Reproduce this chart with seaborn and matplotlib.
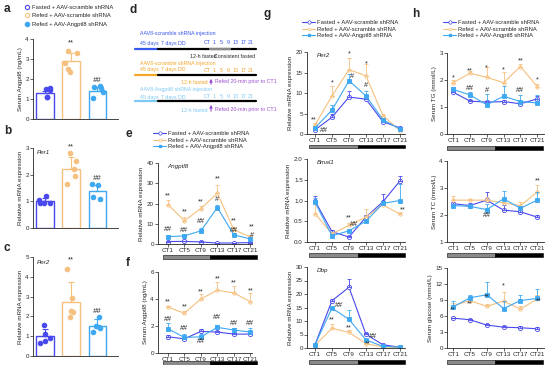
import numpy as np
import matplotlib
matplotlib.use("Agg")
import matplotlib.pyplot as plt
from matplotlib.lines import Line2D
from matplotlib.patches import Rectangle, FancyArrowPatch
import seaborn as sns

W, H = 550, 365

fasted_color = "#4848ee"
scramble_color = "#f6c07e"
angptl8_color = "#3ea8f2"
colors = [fasted_color, scramble_color, angptl8_color]

groups = ["Fasted", "Refed scramble", "Refed Angptl8"]
legend_labels = ["Fasted + AAV-scramble shRNA", "Refed + AAV-scramble shRNA", "Refed + AAV-Angptl8 shRNA"]
ct_labels = ["CT1", "CT5", "CT9", "CT13", "CT17", "CT21"]

# a-c: bar panels
serum_angptl8_means = [1.3, 2.88, 1.4]
serum_angptl8_errs = [0.12, 0.4, 0.2]
serum_angptl8_points = [[1.55, 1.5, 1.45, 1.1, 1.1], [3.4, 3.3, 2.8, 2.5, 2.35], [1.65, 1.6, 1.55, 1.35, 1.05]]

per1_means = [1.0, 2.2, 1.37]
per1_errs = [0.13, 0.45, 0.25]
per1_points = [[1.2, 1.05, 0.95, 0.95, 0.95], [2.8, 2.5, 2.2, 1.95, 1.65], [1.65, 1.6, 1.15, 1.1]]

per2_means = [1.0, 2.75, 1.53]
per2_errs = [0.35, 1.0, 0.35]
per2_points = [[1.55, 1.1, 0.9, 0.75, 0.65], [4.4, 2.95, 2.25, 2.2, 1.95], [1.95, 1.5, 1.45, 1.4, 1.2]]

# e: liver Angptl8 mRNA
e_fasted = [1.2, 1.3, 1.0, 0.5, 0.5, 0.7]
e_fasted_err = [0.3, 0.3, 0.3, 0.2, 0.2, 0.3]
e_scramble = [19.5, 11.5, 17.5, 25.0, 7.0, 3.5]
e_scramble_err = [2.0, 2.0, 1.5, 4.0, 1.5, 1.0]
e_angptl8 = [3.6, 4.0, 6.5, 18.0, 4.5, 2.5]
e_angptl8_err = [1.0, 1.0, 1.5, 1.5, 1.0, 0.8]

# f: serum Angptl8
f_fasted = [1.2, 1.05, 1.6, 1.55, 1.4, 1.4]
f_fasted_err = [0.15, 0.1, 0.15, 0.1, 0.1, 0.1]
f_scramble = [3.4, 2.95, 4.0, 4.65, 4.45, 3.8]
f_scramble_err = [0.1, 0.15, 0.35, 0.6, 0.55, 0.65]
f_angptl8 = [1.8, 1.15, 1.2, 1.9, 1.7, 1.55]
f_angptl8_err = [0.45, 0.25, 0.2, 0.15, 0.15, 0.3]

# g: clock genes
per2_fasted = [1.0, 4.1, 9.0, 8.5, 3.0, 1.5]
per2_fasted_err = [0.3, 0.9, 1.5, 1.0, 0.5, 0.3]
per2_scramble = [2.2, 9.3, 15.7, 14.2, 4.5, 0.8]
per2_scramble_err = [0.5, 2.4, 2.8, 2.8, 0.5, 0.3]
per2_angptl8 = [1.5, 5.8, 13.0, 9.3, 3.5, 1.2]
per2_angptl8_err = [0.3, 1.2, 1.7, 1.2, 0.5, 0.3]

bmal1_fasted = [0.99, 0.25, 0.12, 0.6, 0.97, 1.47]
bmal1_fasted_err = [0.12, 0.03, 0.02, 0.05, 0.18, 0.13]
bmal1_scramble = [0.68, 0.2, 0.4, 0.6, 0.9, 0.67]
bmal1_scramble_err = [0.25, 0.05, 0.05, 0.2, 0.05, 0.05]
bmal1_angptl8 = [0.96, 0.15, 0.27, 0.5, 0.93, 1.0]
bmal1_angptl8_err = [0.1, 0.03, 0.05, 0.05, 0.05, 0.4]

dbp_fasted = [1.2, 17.5, 22.5, 5.1, 1.2, 0.3]
dbp_fasted_err = [0.3, 0.5, 3.0, 0.5, 0.2, 0.1]
dbp_scramble = [1.0, 7.3, 5.8, 1.6, 0.4, 0.2]
dbp_scramble_err = [0.2, 1.7, 0.7, 0.3, 0.1, 0.1]
dbp_angptl8 = [1.2, 14.8, 10.6, 3.0, 0.6, 0.3]
dbp_angptl8_err = [0.3, 0.5, 3.4, 0.4, 0.2, 0.1]

# h: serum lipids and glucose
tg_fasted = [1.55, 1.22, 1.18, 1.2, 1.12, 1.3]
tg_fasted_err = [0.05, 0.05, 0.05, 0.05, 0.05, 0.1]
tg_scramble = [1.9, 2.25, 2.1, 1.9, 2.5, 1.75]
tg_scramble_err = [0.1, 0.08, 0.4, 0.4, 0.08, 0.1]
tg_angptl8 = [1.65, 1.45, 1.08, 1.4, 1.2, 1.15]
tg_angptl8_err = [0.1, 0.1, 0.4, 0.38, 0.25, 0.3]

tc_fasted = [2.42, 2.35, 2.55, 2.18, 2.12, 1.92]
tc_fasted_err = [0.05, 0.08, 0.3, 0.2, 0.05, 0.08]
tc_scramble = [2.55, 2.55, 2.55, 2.45, 2.35, 2.85]
tc_scramble_err = [0.15, 0.05, 0.1, 0.1, 0.15, 0.25]
tc_angptl8 = [2.35, 2.32, 2.2, 2.6, 2.25, 2.55]
tc_angptl8_err = [0.05, 0.05, 0.2, 0.3, 0.05, 0.3]

glu_fasted = [5.6, 5.3, 4.3, 3.9, 3.8, 3.6]
glu_fasted_err = [0.1, 0.2, 0.2, 0.2, 0.4, 0.3]
glu_scramble = [7.9, 8.9, 7.8, 8.8, 7.3, 9.2]
glu_scramble_err = [0.5, 0.7, 0.4, 1.7, 0.5, 0.8]
glu_angptl8 = [7.7, 9.4, 10.0, 7.4, 8.9, 9.3]
glu_angptl8_err = [1.1, 0.6, 2.3, 1.5, 1.1, 1.7]

# significance marks: (CT index, y, text, x shift)
e_marks = [(0, 24, "**", 0), (1, 16, "**", 0), (2, 21, "**", 0), (3, 32, "**", 0), (4, 11.2, "**", 0), (5, 8.5, "**", 0.1),
           (0, 7, "##", 0), (1, 6.5, "##", 0), (2, 11, "##", 0), (3, 22, "#", 0), (4, 6.6, "##", 0), (5, 4.0, "#", 0.1)]
f_marks = [(0, 3.8, "**", 0), (1, 3.4, "**", 0), (2, 4.5, "**", 0), (3, 5.5, "**", 0), (4, 5.2, "**", 0), (5, 4.6, "**", 0),
           (0, 2.45, "##", 0), (1, 1.8, "##", 0), (2, 0.85, "##", 0), (3, 2.6, "##", 0), (4, 2.2, "##", 0), (5, 2.15, "##", 0)]
per2_marks = [(0, 3.5, "**", -0.1), (0, 0.75, "##", 0.5), (1, 12.5, "*", 0), (2, 19.5, "*", 0), (2, 14.1, "#", 0.15),
              (3, 17, "*", 0), (3, 11.8, "#", 0)]
bmal1_marks = [(2, 0.58, "**", 0), (2, 0.41, "##", 0.3), (5, 0.77, "**", 0.15)]
dbp_marks = [(1, 15.7, "##", 0.4), (1, 10.4, "**", 0), (2, 7.4, "**", 0), (3, 4.2, "##", 0.4), (3, 1.5, "**", 0.1)]
tg_marks = [(0, 2.07, "*", 0), (1, 2.33, "**", 0), (2, 2.46, "*", 0), (3, 2.36, "*", 0), (4, 2.7, "**", 0), (5, 1.99, "*", 0),
            (1, 1.68, "##", 0), (2, 1.62, "#", 0), (4, 1.62, "##", 0)]
tc_marks = [(2, 1.99, "##", 0), (5, 3.25, "**", 0)]
glu_marks = [(0, 7.1, "**", 0), (1, 8.25, "**", 0), (2, 9.6, "**", 0), (3, 11.6, "*", 0), (5, 8.75, "**", 0.1)]


def px(x, y):
    return x / W, 1 - y / H


def add_axes_px(fig, left, top, right, bottom):
    return fig.add_axes([left / W, 1 - bottom / H, (right - left) / W, (bottom - top) / H])


def style_axes(ax):
    sns.despine(ax=ax)
    for s in ["left", "bottom"]:
        ax.spines[s].set_linewidth(0.6)
    ax.tick_params(labelsize=4.5, length=2, width=0.5, pad=1)


def light_dark_bar(fig, left, split, right, y, h=3.5):
    fig.add_artist(Rectangle(px(left, y + h), (split - left) / W, h / H, facecolor="#8a8a8a",
                             edgecolor="black", lw=0.4, transform=fig.transFigure))
    fig.add_artist(Rectangle(px(split, y + h), (right - split) / W, h / H, facecolor="black",
                             edgecolor="black", lw=0.4, transform=fig.transFigure))


def bar_panel(fig, box, means, errs, points, ylim, yticks, ylabel, gene=None, star_y=None, hash_y=None):
    ax = add_axes_px(fig, *box)
    sns.barplot(x=groups, y=means, hue=groups, palette=colors, fill=False, width=0.66,
                errorbar=None, legend=False, linewidth=1.0, ax=ax)
    for i in range(3):
        ax.errorbar([i], [means[i]], yerr=[[0], [errs[i]]], fmt="none", ecolor=colors[i],
                    elinewidth=0.8, capsize=2, capthick=0.8)
        sns.stripplot(x=[groups[i]] * len(points[i]), y=points[i], order=groups, color=colors[i],
                      edgecolor=colors[i], linewidth=0.8, size=3.2, jitter=0.22, ax=ax)
        if i < 2:
            ax.collections[-1].set_facecolor("white")
    ax.set_xlim(-0.46, 2.8)
    ax.set_ylim(*ylim)
    ax.set_yticks(yticks)
    ax.set_xticks([])
    ax.set_xlabel("")
    ax.set_ylabel(ylabel, fontsize=4.5, labelpad=2)
    style_axes(ax)
    if gene:
        ax.text(0.05, 0.97, gene, transform=ax.transAxes, fontsize=4.5, style="italic", va="top")
    ax.text(1, star_y, "**", ha="center", va="center", fontsize=5.5)
    ax.text(2, hash_y, "##", ha="center", va="center", fontsize=5.5, style="italic")
    return ax


def line_panel(fig, box, xlim, series, ylim, yticks, ylabel, marks, gene=None, yfmt=None):
    ax = add_axes_px(fig, *box)
    x = np.arange(len(ct_labels))
    styles = [("o", "white", 3.0), ("o", "white", 2.4), ("s", angptl8_color, 2.2)]
    for (vals, errs), c, (m, mfc, ms) in zip(series, colors, styles):
        sns.lineplot(x=x, y=vals, color=c, marker=m, markersize=ms, markerfacecolor=mfc,
                     markeredgecolor=c, markeredgewidth=0.6, linewidth=0.8, ax=ax, legend=False)
        ax.errorbar(x, vals, yerr=[np.zeros(len(errs)), errs], fmt="none", ecolor=c,
                    elinewidth=0.6, capsize=1.5, capthick=0.6)
    for i, y, t, dx in marks:
        ax.text(i + dx, y, t, ha="center", va="center", fontsize=5.2)
    ax.set_xlim(*xlim)
    ax.set_ylim(*ylim)
    ax.set_yticks(yticks)
    if yfmt:
        ax.set_yticklabels([yfmt.format(v) for v in yticks])
    ax.set_xticks(x)
    ax.set_xticklabels(ct_labels)
    ax.set_ylabel(ylabel, fontsize=4.5, labelpad=2)
    style_axes(ax)
    if gene:
        ax.text(0.1, 0.99, gene, transform=ax.transAxes, fontsize=4.5, style="italic", va="top")
    return ax


def line_legend(fig, x, y):
    handles = [
        Line2D([], [], color=fasted_color, lw=0.8, marker="o", ms=2.4, mfc="white", mec=fasted_color, mew=0.5),
        Line2D([], [], color=scramble_color, lw=0.8, marker="o", ms=2.0, mfc="white", mec=scramble_color, mew=0.5),
        Line2D([], [], color=angptl8_color, lw=0.8, marker="s", ms=1.8, mfc=angptl8_color, mec=angptl8_color),
    ]
    fig.legend(handles, legend_labels, loc="upper left", bbox_to_anchor=px(x, y), frameon=False,
               fontsize=4.2, handlelength=2.3, handletextpad=0.25, labelspacing=0.25,
               borderpad=0, borderaxespad=0)


def draw_schematic(fig):
    fig.text(*px(130, 13), "d", fontsize=8.5, fontweight="bold")
    rows = [("#3656ec", 34, 43, 49), ("#f4a62a", 63, 70, 75), ("#7ec8f4", 90, 97, 101)]
    titles = ["AAV8-scramble shRNA injection", "AAV8-scramble shRNA injection", "AAV8-Angptl8 shRNA injection"]
    for (c, yt, yd, yl), title in zip(rows, titles):
        fig.text(*px(140, yt), title, color=c, fontsize=3.8, va="center")
        fig.text(*px(140, yd), "45 days", color=c, fontsize=3.8, va="center")
        fig.text(*px(161, yd), "7 days DD", color=c, fontsize=3.8, va="center")
        fig.text(*px(204, yd), "CT", color=c, fontsize=3.8, va="center")
        for xx, t in zip([214, 221, 228, 236, 243, 251], ["1", "5", "9", "13", "17", "21"]):
            fig.text(*px(xx, yd), t, color=c, fontsize=3.8, va="center", ha="center")
        fig.add_artist(Line2D([135 / W, 158 / W], [1 - yl / H] * 2, color=c, lw=1.6, transform=fig.transFigure))
        fig.add_artist(Line2D([158 / W, 256 / W], [1 - yl / H] * 2, color="black", lw=1.6, transform=fig.transFigure))
    fig.add_artist(Line2D([210 / W, 230 / W], [1 - 49 / H] * 2, color="#8a8a8a", lw=1.6, transform=fig.transFigure))
    fig.text(*px(190, 57), "12-h fasted", fontsize=3.8, va="center")
    fig.text(*px(214, 57), "Consistent fasted", fontsize=3.8, va="center")
    purple = "#9b4fd0"
    for c, yn, y0, y1 in [("#f4a62a", 82, 87, 76), ("#7ec8f4", 110, 114, 102)]:
        fig.text(*px(181, yn), "12-h fasted", color=c, fontsize=3.8, va="center")
        fig.text(*px(215, yn), "Refed 20-min prior to CT1", color=purple, fontsize=3.8, va="center")
        fig.add_artist(FancyArrowPatch(px(211, y0), px(211, y1), arrowstyle="-|>", mutation_scale=4,
                                       color=purple, lw=0.8, transform=fig.transFigure))


def main():
    sns.set_style("ticks")
    plt.rcParams["font.family"] = ["Liberation Sans", "DejaVu Sans"]
    np.random.seed(4)
    fig = plt.figure(figsize=(5.5, 3.65), dpi=100)

    # a-c
    fig.text(*px(4, 12), "a", fontsize=8.5, fontweight="bold")
    handles = [Line2D([], [], ls="none", marker="o", ms=3, mfc="white", mec=fasted_color, mew=0.8),
               Line2D([], [], ls="none", marker="o", ms=3, mfc="white", mec=scramble_color, mew=0.8),
               Line2D([], [], ls="none", marker="o", ms=3, mfc=angptl8_color, mec=angptl8_color)]
    fig.legend(handles, legend_labels, loc="upper left", bbox_to_anchor=px(24, 5), frameon=False,
               fontsize=4.2, handlelength=1.0, handletextpad=0.3, labelspacing=0.55,
               borderpad=0, borderaxespad=0)
    bar_panel(fig, (33, 39, 118, 119), serum_angptl8_means, serum_angptl8_errs, serum_angptl8_points,
              (0, 4), [0, 1, 2, 3, 4], "Serum Angptl8 (ng/mL)", star_y=3.8, hash_y=1.95)
    fig.text(*px(4, 134), "b", fontsize=8.5, fontweight="bold")
    bar_panel(fig, (33, 148, 118, 228), per1_means, per1_errs, per1_points,
              (0, 3), [0, 1, 2, 3], "Relative mRNA expression", gene="Per1", star_y=3.05, hash_y=1.85)
    fig.text(*px(4, 251), "c", fontsize=8.5, fontweight="bold")
    bar_panel(fig, (33, 257, 118, 356), per2_means, per2_errs, per2_points,
              (0, 5), [0, 1, 2, 3, 4, 5], "Relative mRNA expression", gene="Per2", star_y=4.85, hash_y=2.27)

    # d
    draw_schematic(fig)

    # e-f
    fig.text(*px(126, 137), "e", fontsize=8.5, fontweight="bold")
    line_legend(fig, 153, 131)
    line_panel(fig, (158, 163, 252, 244), (-0.6, 5.1),
               [(e_fasted, e_fasted_err), (e_scramble, e_scramble_err), (e_angptl8, e_angptl8_err)],
               (0, 40), [0, 10, 20, 30, 40], "Relative mRNA expression", e_marks, gene="Angptl8")
    light_dark_bar(fig, 163, 210, 257, 255)
    fig.text(*px(126, 266), "f", fontsize=8.5, fontweight="bold")
    line_panel(fig, (158, 272, 252, 353), (-0.6, 5.1),
               [(f_fasted, f_fasted_err), (f_scramble, f_scramble_err), (f_angptl8, f_angptl8_err)],
               (0, 6), [0, 2, 4, 6], "Serum Angptl8 (ng/mL)", f_marks)
    light_dark_bar(fig, 163, 210, 257, 361)

    # g
    fig.text(*px(264, 17), "g", fontsize=8.5, fontweight="bold")
    line_legend(fig, 302, 20)
    line_panel(fig, (307, 52, 405, 134), (-0.47, 5.3),
               [(per2_fasted, per2_fasted_err), (per2_scramble, per2_scramble_err), (per2_angptl8, per2_angptl8_err)],
               (0, 20), [0, 5, 10, 15, 20], "Relative mRNA expression", per2_marks, gene="Per2")
    light_dark_bar(fig, 309, 358, 405, 145)
    line_panel(fig, (307, 159, 405, 242), (-0.47, 5.3),
               [(bmal1_fasted, bmal1_fasted_err), (bmal1_scramble, bmal1_scramble_err), (bmal1_angptl8, bmal1_angptl8_err)],
               (0, 2), [0, 0.5, 1.0, 1.5, 2.0], "Relative mRNA expression", bmal1_marks, gene="Bmal1", yfmt="{:.1f}")
    light_dark_bar(fig, 309, 358, 405, 253)
    line_panel(fig, (307, 267, 405, 348), (-0.47, 5.3),
               [(dbp_fasted, dbp_fasted_err), (dbp_scramble, dbp_scramble_err), (dbp_angptl8, dbp_angptl8_err)],
               (0, 30), [0, 5, 10, 15, 20, 25, 30], "Relative mRNA expression", dbp_marks, gene="Dbp")
    light_dark_bar(fig, 309, 358, 405, 360)

    # h
    fig.text(*px(412, 17), "h", fontsize=8.5, fontweight="bold")
    line_legend(fig, 443, 20)
    line_panel(fig, (447, 53, 544, 134), (-0.36, 5.4),
               [(tg_fasted, tg_fasted_err), (tg_scramble, tg_scramble_err), (tg_angptl8, tg_angptl8_err)],
               (0, 3), [0, 1, 2, 3], "Serum TG (mmol/L)", tg_marks)
    light_dark_bar(fig, 447, 495, 543, 146)
    line_panel(fig, (447, 161, 544, 242), (-0.36, 5.4),
               [(tc_fasted, tc_fasted_err), (tc_scramble, tc_scramble_err), (tc_angptl8, tc_angptl8_err)],
               (1, 4), [1, 2, 3, 4], "Serum TC (mmol/L)", tc_marks)
    light_dark_bar(fig, 447, 495, 543, 253)
    line_panel(fig, (447, 268, 544, 348), (-0.36, 5.4),
               [(glu_fasted, glu_fasted_err), (glu_scramble, glu_scramble_err), (glu_angptl8, glu_angptl8_err)],
               (0, 15), [0, 3, 6, 9, 12, 15], "Serum glucose (mmol/L)", glu_marks)
    light_dark_bar(fig, 447, 495, 543, 360)

    fig.savefig("out.png", dpi=100)


if __name__ == "__main__":
    main()
